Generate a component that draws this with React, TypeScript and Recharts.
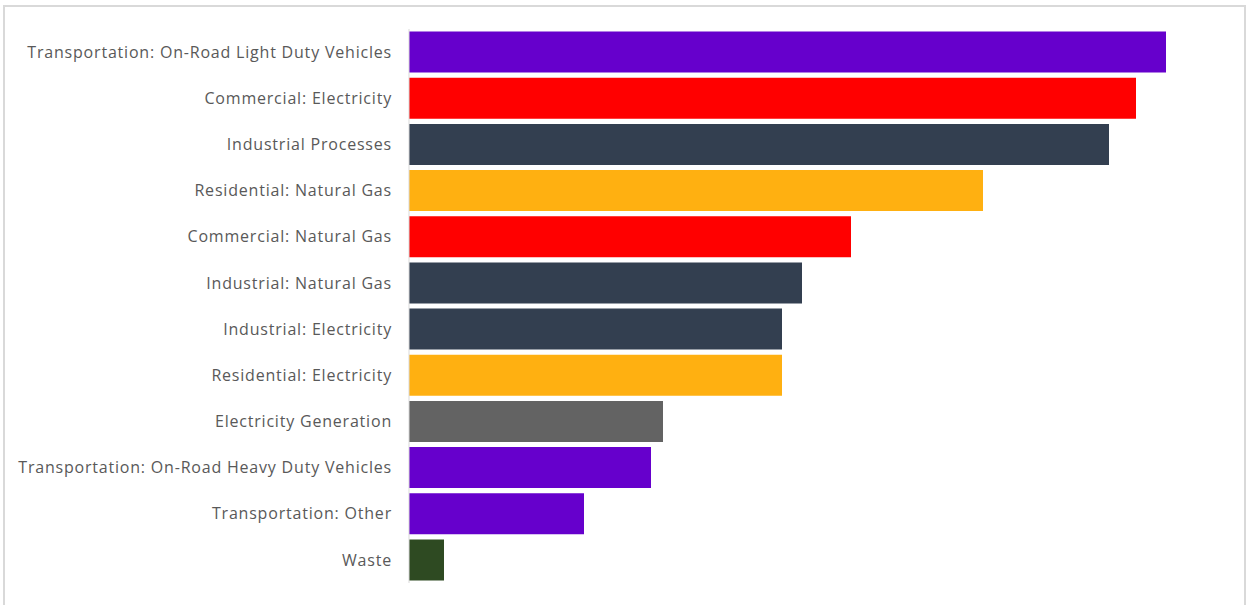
import { BarChart, Bar, XAxis, YAxis, Cell } from "recharts";

const categories = [
  "Transportation: On-Road Light Duty Vehicles",
  "Commercial: Electricity",
  "Industrial Processes",
  "Residential: Natural Gas",
  "Commercial: Natural Gas",
  "Industrial: Natural Gas",
  "Industrial: Electricity",
  "Residential: Electricity",
  "Electricity Generation",
  "Transportation: On-Road Heavy Duty Vehicles",
  "Transportation: Other",
  "Waste",
];

const emissions = [757, 727, 700, 574, 442, 393, 373, 373, 254, 242, 175, 35];

const barColors = [
  "#6600cc",
  "#ff0000",
  "#333f50",
  "#ffb011",
  "#ff0000",
  "#333f50",
  "#333f50",
  "#ffb011",
  "#636363",
  "#6600cc",
  "#6600cc",
  "#2e4a22",
];

const data = categories.map((name, i) => ({ name, value: emissions[i] }));

export default function App() {
  return (
    <div
      style={{
        position: "absolute",
        left: 0,
        top: 0,
        width: 1246,
        height: 605,
        background: "#fff",
        overflow: "hidden",
      }}
    >
      <div
        style={{
          position: "absolute",
          left: 3,
          top: 5,
          width: 1239,
          height: 610,
          border: "2px solid #d9d9d9",
        }}
      />
      <BarChart
        width={1246}
        height={605}
        data={data}
        layout="vertical"
        barCategoryGap="5.6%"
        margin={{ top: 29, right: 37, bottom: 22, left: 0 }}
        style={{ position: "absolute", left: 0, top: 0 }}
      >
        <XAxis type="number" domain={[0, 800]} hide />
        <YAxis
          type="category"
          dataKey="name"
          width={409}
          axisLine={{ stroke: "#d9d9d9", strokeWidth: 1 }}
          tickLine={false}
          tickSize={0}
          tickMargin={17}
          interval={0}
          tick={{
            fill: "#595959",
            fontSize: 16,
            fontFamily: "Open Sans",
            letterSpacing: 0.8,
          }}
        />
        <Bar dataKey="value" isAnimationActive={false}>
          {data.map((d, i) => (
            <Cell key={d.name} fill={barColors[i]} />
          ))}
        </Bar>
      </BarChart>
    </div>
  );
}
